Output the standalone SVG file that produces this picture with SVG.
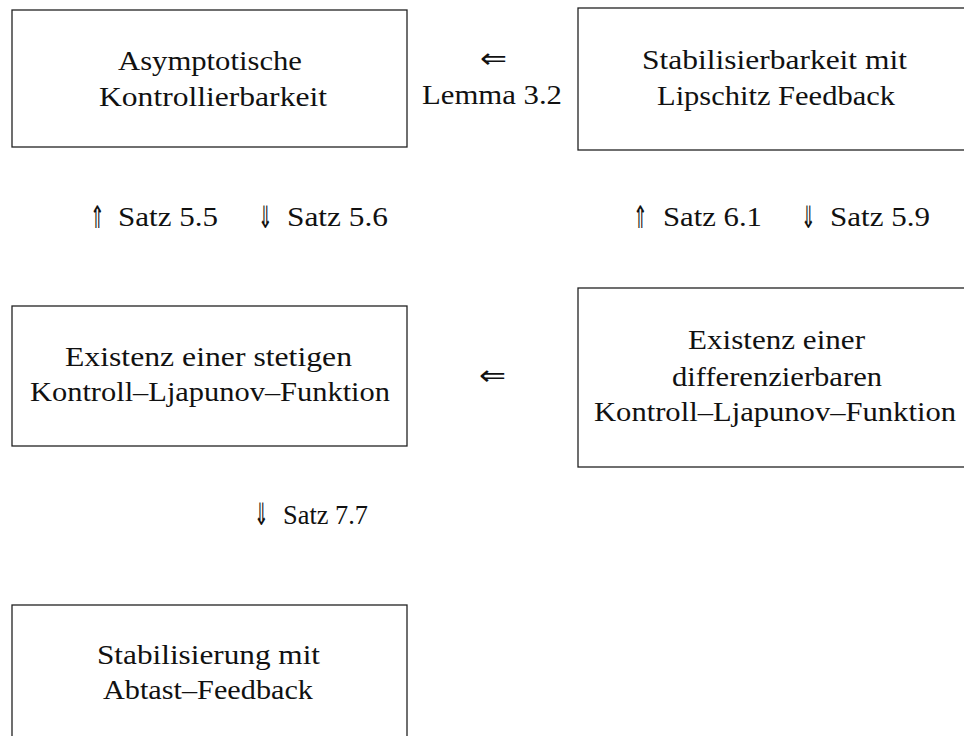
<svg xmlns="http://www.w3.org/2000/svg" width="964" height="736" viewBox="0 0 964 736" font-family="'Liberation Serif', 'DejaVu Serif', serif">
<style>
.box{fill:#fff;stroke:#222;stroke-width:1.3}
text{font-family:"Liberation Serif","DejaVu Serif",serif;font-size:27px;fill:#111}
.a{font-family:"DejaVu Sans",sans-serif;font-size:28px}
.v{font-family:"DejaVu Sans",sans-serif;font-size:31px}
</style>
<rect width="964" height="736" fill="#fff"/>
<g id="n1"><rect class="box" x="12" y="10" width="395" height="137"/>
<text x="118" y="70" textLength="184" lengthAdjust="spacingAndGlyphs">Asymptotische</text><text x="99" y="106" textLength="228" lengthAdjust="spacingAndGlyphs">Kontrollierbarkeit</text></g>
<g id="n2"><rect class="box" x="578" y="8" width="394" height="142"/>
<text x="642" y="69" textLength="265" lengthAdjust="spacingAndGlyphs">Stabilisierbarkeit mit</text><text x="657" y="105" textLength="238" lengthAdjust="spacingAndGlyphs">Lipschitz Feedback</text></g>
<g id="n3"><rect class="box" x="12" y="306" width="395" height="140"/>
<text x="65" y="366" textLength="287" lengthAdjust="spacingAndGlyphs">Existenz einer stetigen</text><text x="30" y="401" textLength="360" lengthAdjust="spacingAndGlyphs">Kontroll–Ljapunov–Funktion</text></g>
<g id="n4"><rect class="box" x="578" y="288" width="394" height="179"/>
<text x="688" y="349" textLength="177" lengthAdjust="spacingAndGlyphs">Existenz einer</text><text x="672" y="386" textLength="210" lengthAdjust="spacingAndGlyphs">differenzierbaren</text><text x="594" y="421" textLength="362" lengthAdjust="spacingAndGlyphs">Kontroll–Ljapunov–Funktion</text></g>
<g id="n5"><rect class="box" x="12" y="605" width="395" height="140"/>
<text x="97" y="664" textLength="223" lengthAdjust="spacingAndGlyphs">Stabilisierung mit</text><text x="103" y="699" textLength="210" lengthAdjust="spacingAndGlyphs">Abtast–Feedback</text></g>
<g id="connectors">
<text class="a" x="480" y="68" textLength="27" lengthAdjust="spacingAndGlyphs">⇐</text>
<text x="422" y="104" textLength="140" lengthAdjust="spacingAndGlyphs">Lemma 3.2</text>
<text class="a" x="479" y="385" textLength="27" lengthAdjust="spacingAndGlyphs">⇐</text>
<text class="v" x="90" y="228" textLength="15" lengthAdjust="spacingAndGlyphs">⇑</text>
<text x="118" y="226" textLength="100" lengthAdjust="spacingAndGlyphs">Satz 5.5</text>
<text class="v" x="258" y="228" textLength="15" lengthAdjust="spacingAndGlyphs">⇓</text>
<text x="287" y="226" textLength="101" lengthAdjust="spacingAndGlyphs">Satz 5.6</text>
<text class="v" x="633" y="228" textLength="15" lengthAdjust="spacingAndGlyphs">⇑</text>
<text x="663" y="226" textLength="99" lengthAdjust="spacingAndGlyphs">Satz 6.1</text>
<text class="v" x="801" y="228" textLength="15" lengthAdjust="spacingAndGlyphs">⇓</text>
<text x="830" y="226" textLength="100" lengthAdjust="spacingAndGlyphs">Satz 5.9</text>
<text class="v" x="254" y="525" textLength="15" lengthAdjust="spacingAndGlyphs">⇓</text>
<text x="283" y="524" textLength="85" lengthAdjust="spacingAndGlyphs">Satz 7.7</text>
</g>
</svg>
